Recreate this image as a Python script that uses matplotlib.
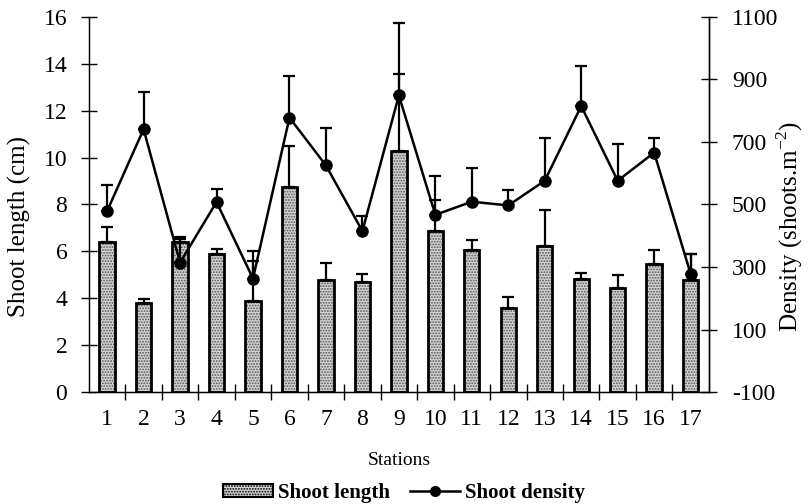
import numpy as np
import matplotlib
matplotlib.use("Agg")
import matplotlib.pyplot as plt
from matplotlib.patches import Patch
from matplotlib.lines import Line2D

plt.rcParams['font.family'] = ['Liberation Serif', 'DejaVu Serif']
plt.rcParams['mathtext.fontset'] = 'custom'
plt.rcParams['mathtext.rm'] = 'Liberation Serif'
plt.rcParams['axes.unicode_minus'] = False
plt.rcParams['hatch.linewidth'] = 0.9

stations = [str(i) for i in range(1, 18)]
shoot_length = [6.41, 3.81, 6.41, 5.89, 3.90, 8.73, 4.78, 4.69, 10.27,
                6.87, 6.07, 3.58, 6.23, 4.83, 4.44, 5.45, 4.78]
length_err = [0.63, 0.14, 0.22, 0.20, 1.70, 1.78, 0.71, 0.34, 3.28,
              1.32, 0.40, 0.46, 1.52, 0.26, 0.55, 0.63, 1.09]
shoot_density = [479, 741, 314, 508, 263, 778, 625, 415, 849,
                 467, 509, 497, 576, 815, 576, 666, 278]
density_err = [82, 119, 75, 43, 89, 133, 119, 48, 231,
               124, 109, 49, 138, 128, 117, 48, 63]

x = np.arange(len(stations))
zeros = np.zeros(len(stations))

fig = plt.figure(figsize=(8.08, 5.04), dpi=100)
ax = fig.add_axes([0.110, 0.2222, 0.7673, 0.7441])

# dotted fill, then a solid black outline on top
bar_w = 0.42
ax.bar(x, shoot_length, width=bar_w, color='#d4d4d4', hatch='......',
       edgecolor='#555555', linewidth=0, zorder=2)
ax.bar(x, shoot_length, width=bar_w, fill=False, edgecolor='black',
       linewidth=2.0, zorder=3)
ax.errorbar(x, shoot_length, yerr=[zeros, length_err], fmt='none',
            ecolor='black', elinewidth=1.6, capsize=4, capthick=1.6, zorder=3)

ax.set_xlim(-0.5, len(stations) - 0.5)
ax.set_ylim(0, 16)
ax.set_yticks(np.arange(0, 17, 2))
ax.set_xticks(x)
ax.set_xticklabels(stations)
ax.set_xticks(np.arange(0.5, len(stations) - 1, 1), minor=True)
ax.tick_params(axis='x', which='major', length=0, pad=12, labelsize=17)
ax.tick_params(axis='x', which='minor', direction='inout', length=11, width=1)
ax.tick_params(axis='y', direction='inout', length=11, width=1, labelsize=17, pad=10)
ax.spines['top'].set_visible(False)
for s in ['left', 'bottom', 'right']:
    ax.spines[s].set_linewidth(1.0)

ax.set_ylabel('Shoot length (cm)', fontsize=18)
ax.yaxis.set_label_coords(-0.094, 0.44)
ax.set_xlabel('Stations', fontsize=14, labelpad=16)

ax2 = ax.twinx()
ax2.errorbar(x, shoot_density, yerr=[zeros, density_err], fmt='none',
             ecolor='black', elinewidth=1.6, capsize=4, capthick=1.6, zorder=4)
ax2.plot(x, shoot_density, color='black', linewidth=1.8, marker='o',
         markersize=8, zorder=5)
ax2.set_ylim(-100, 1100)
ax2.set_yticks(np.arange(-100, 1101, 200))
ax2.tick_params(axis='y', direction='inout', length=11, width=1, labelsize=17, pad=11)
ax2.spines['top'].set_visible(False)
ax2.spines['right'].set_linewidth(1.0)
ax2.set_ylabel('Density (shoots.m$^{\\mathregular{-2}}$)', fontsize=18)
ax2.yaxis.set_label_coords(1.106, 0.44)

handles = [
    Patch(facecolor='#d4d4d4', edgecolor='black', hatch='......', linewidth=1.5,
          label='Shoot length'),
    Line2D([], [], color='black', linewidth=1.8, marker='o', markersize=7,
           label='Shoot density'),
]
fig.legend(handles=handles, loc='lower center', bbox_to_anchor=(0.5, -0.035),
           ncol=2, frameon=False, prop={'size': 15, 'weight': 'bold'},
           handlelength=2.4, handleheight=0.6, columnspacing=1.0,
           handletextpad=0.2)

fig.savefig('out.png', dpi=100)
